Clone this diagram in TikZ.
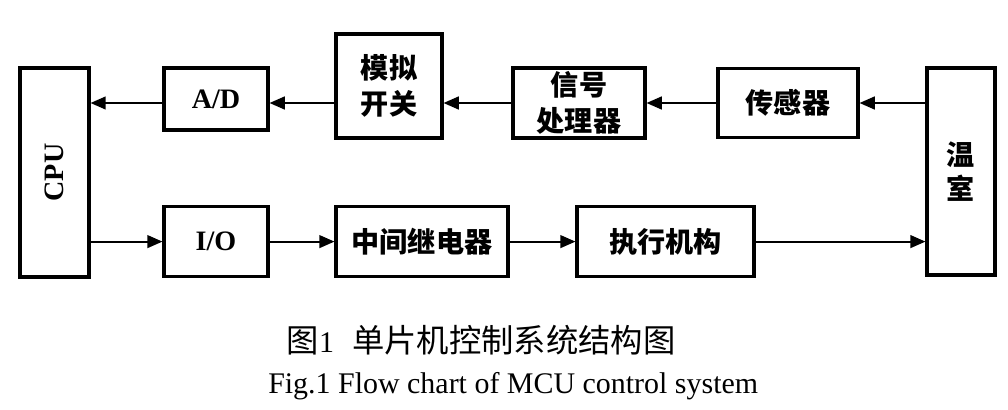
\documentclass[tikz,border=0pt]{standalone}
\usepackage{fontspec}
\setmainfont{Liberation Serif}
\newfontfamily\cjk{Noto Sans CJK SC}
\usetikzlibrary{arrows.meta, positioning}
\tikzset{
  every picture/.style={line width=1.4pt},
  blk/.style={draw, line width=2.2pt, align=center, inner sep=0pt, font=\cjk\bfseries\fontsize{20}{26}\selectfont},
  lat/.style={font=\bfseries\fontsize{20}{24}\selectfont},
  arrow/.style={-{Triangle[length=3.8mm, width=3.2mm]}, line width=1.4pt},
  captxt/.style={font=\fontsize{21.3}{25}\selectfont},
}
\begin{document}
\begin{tikzpicture}
  \useasboundingbox (0,0) rectangle (25.2,-10.25);
  % left and right blocks
  \node[blk, lat, minimum width=1.725cm, minimum height=5.225cm] (cpu) at (1.3625,-4.3125) {\rotatebox{90}{CPU}};
  \node[blk, font=\cjk\bfseries\fontsize{20}{24}\selectfont, minimum width=1.7cm, minimum height=5.175cm] (room) at (24.025,-4.2875) {温\\室};
  % upper chain
  \node[blk, lat, minimum width=2.6cm, minimum height=1.55cm] (ad) at (5.4,-2.475) {A/D};
  \node[blk, minimum width=2.65cm, minimum height=2.6cm] (mux) at (9.725,-2.15) {模拟\\开关};
  \node[blk, minimum width=3.3cm, minimum height=1.75cm] (sig) at (14.475,-2.575) {信号\\处理器};
  \node[blk, minimum width=3.5cm, minimum height=1.725cm] (sensor) at (19.7,-2.575) {传感器};
  % lower chain
  \node[blk, lat, minimum width=2.6cm, minimum height=1.75cm] (io) at (5.4,-6.04) {I/O};
  \node[blk, minimum width=4.3cm, minimum height=1.75cm] (relay) at (10.55,-6.04) {中间继电器};
  \node[blk, minimum width=4.425cm, minimum height=1.75cm] (act) at (16.6375,-6.04) {执行机构};
  % connectors
  \draw[arrow] (room.west |- sensor) -- (sensor.east);
  \draw[arrow] (sensor.west) -- (sig.east);
  \draw[arrow] (sig.west) -- (sig.west -| mux.east);
  \draw[arrow] (sig.west -| mux.west) -- (sig.west -| ad.east);
  \draw[arrow] (sig.west -| ad.west) -- (sig.west -| cpu.east);
  \draw[arrow] (cpu.east |- io) -- (io.west);
  \draw[arrow] (io) -- (relay);
  \draw[arrow] (relay) -- (act);
  \draw[arrow] (act) -- (act -| room.west);
  % caption
  \node[captxt] (cn) at (12.03,-8.5) {{\cjk\fontsize{23}{27}\selectfont 图}1\hspace{0.6em}{\cjk\fontsize{23}{27}\selectfont 单片机控制系统结构图}};
  \node[captxt] (en) at (12.83,-9.65) {Fig.1 Flow chart of MCU control system};
\end{tikzpicture}
\end{document}
